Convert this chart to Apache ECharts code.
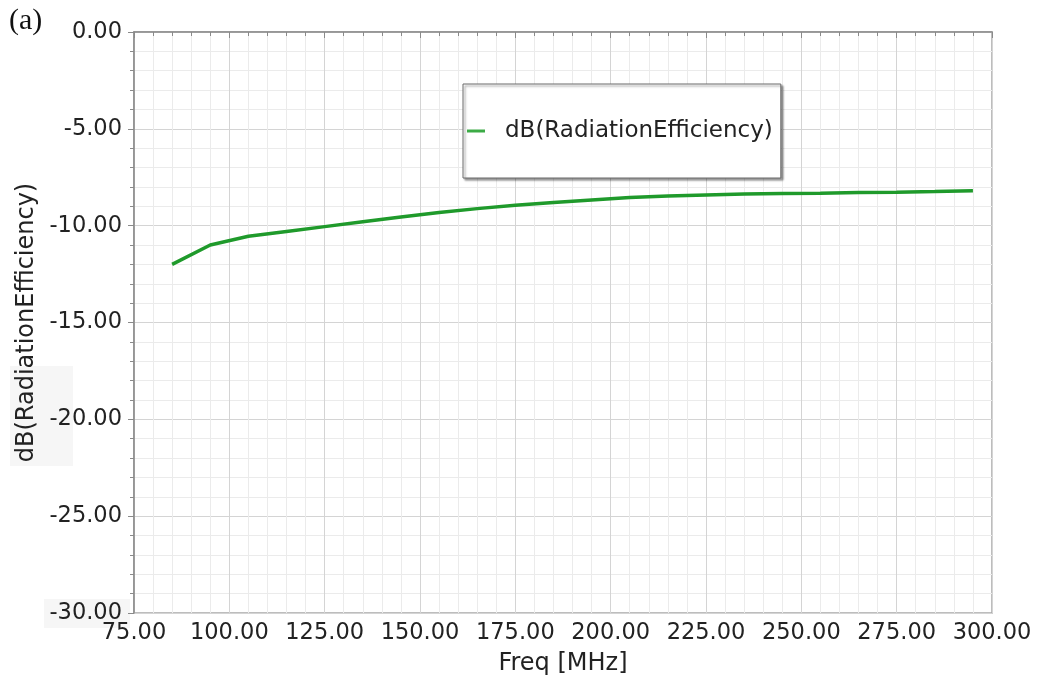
<!DOCTYPE html>
<html>
<head>
<meta charset="utf-8">
<script src="https://cdn.jsdelivr.net/npm/echarts@6/dist/echarts.min.js"></script>
<style>
  html, body { margin: 0; padding: 0; background: #fff; }
  #chart { width: 1038px; height: 681px; }
</style>
</head>
<body>
<div id="chart"></div>
<script>
// Frequency sweep (MHz) and radiation efficiency (dB)
const freqMHz = [85, 95, 105, 115, 125, 135, 145, 155, 165, 175, 185, 195, 205, 215, 225, 235, 245, 255, 265, 275, 285, 295];
const radEffDb = [-12.0, -11.0, -10.55, -10.3, -10.05, -9.8, -9.55, -9.32, -9.12, -8.95, -8.8, -8.67, -8.55, -8.47, -8.42, -8.37, -8.34, -8.32, -8.29, -8.27, -8.24, -8.2];
const seriesName = 'dB(RadiationEfficiency)';
const xTitle = 'Freq [MHz]';
const yTitle = 'dB(RadiationEfficiency)';
const panelTag = '(a)';

const FONT = 'DejaVu Sans';
const TEXT = '#222222';
const chart = echarts.init(document.getElementById('chart'), null, { renderer: 'canvas' });

const points = freqMHz.map((f, i) => [f, radEffDb[i]]);
const fmt2 = v => v.toFixed(2);

chart.setOption({
  animation: false,
  backgroundColor: '#ffffff',
  graphic: [
    { type: 'rect', z: 0, shape: { x: 10, y: 366, width: 63, height: 100 }, style: { fill: '#f6f6f6' } },
    { type: 'rect', z: 0, shape: { x: 44, y: 599, width: 86, height: 29 }, style: { fill: '#f6f6f6' } },
    { type: 'text', left: 9, top: 6, z: 10,
      style: { text: panelTag, font: '30px "Liberation Serif"', fill: '#111' } }
  ],
  grid: {
    left: 134, right: 46, top: 32, bottom: 66,
    show: true, borderColor: '#a8a8a8', borderWidth: 1.5, backgroundColor: 'transparent'
  },
  legend: {
    left: 463, top: 84,
    orient: 'vertical',
    backgroundColor: '#fff',
    borderColor: '#6a6a6a', borderWidth: 1,
    shadowColor: 'rgba(0,0,0,0.4)', shadowBlur: 2, shadowOffsetX: 2, shadowOffsetY: 2,
    padding: [33, 8, 33, 4],
    itemWidth: 18, itemHeight: 3,
    icon: 'rect',
    itemStyle: { color: '#3cab46' },
    textStyle: { fontFamily: FONT, fontSize: 23, color: TEXT, padding: [0, 0, 0, 15], lineHeight: 28 },
    data: [{ name: seriesName, itemStyle: { color: '#3cab46' } }],
    selectedMode: false
  },
  xAxis: {
    type: 'value', min: 75, max: 300, interval: 25,
    name: xTitle, nameLocation: 'middle', nameGap: 39,
    nameTextStyle: { fontFamily: FONT, fontSize: 24, color: TEXT },
    axisLine: { show: true, lineStyle: { color: '#8a8a8a', width: 1.5 } },
    axisTick: { show: true, inside: false, length: 6, lineStyle: { color: '#8a8a8a' } },
    minorTick: { show: true, splitNumber: 5, length: 4, lineStyle: { color: '#8a8a8a' } },
    axisLabel: { formatter: fmt2, fontFamily: FONT, fontSize: 22.5, color: TEXT, margin: 9 },
    splitLine: { show: true, lineStyle: { color: '#d4d4d4', width: 1 } },
    minorSplitLine: { show: true, lineStyle: { color: '#ebebeb', width: 1 } }
  },
  yAxis: {
    type: 'value', min: -30, max: 0, interval: 5,
    name: yTitle, nameLocation: 'middle', nameGap: 80,
    nameTextStyle: { fontFamily: FONT, fontSize: 24, color: TEXT },
    axisLine: { show: true, lineStyle: { color: '#8a8a8a', width: 1.5 } },
    axisTick: { show: true, inside: false, length: 6, lineStyle: { color: '#8a8a8a' } },
    minorTick: { show: true, splitNumber: 5, length: 4, lineStyle: { color: '#8a8a8a' } },
    axisLabel: { formatter: fmt2, fontFamily: FONT, fontSize: 22.5, color: TEXT, margin: 12 },
    splitLine: { show: true, lineStyle: { color: '#d4d4d4', width: 1 } },
    minorSplitLine: { show: true, lineStyle: { color: '#ebebeb', width: 1 } }
  },
  series: [{
    name: seriesName,
    type: 'line',
    data: points,
    showSymbol: false,
    symbol: 'none',
    lineStyle: { color: '#1f9a2b', width: 3.5 },
    itemStyle: { color: '#1f9a2b' },
    z: 5
  }]
});
</script>
</body>
</html>
